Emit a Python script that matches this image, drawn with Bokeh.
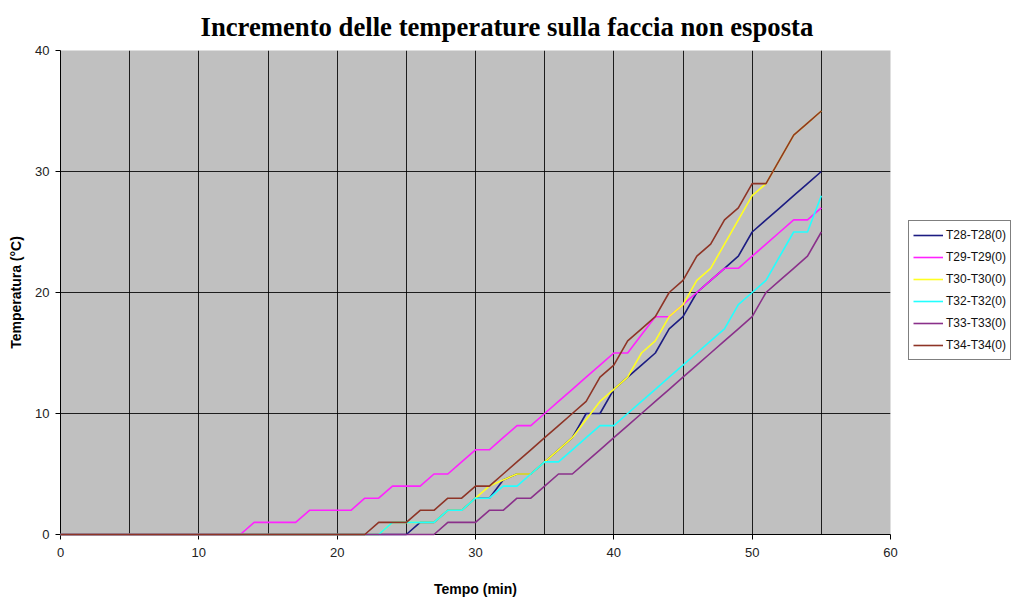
from bokeh.plotting import figure
from bokeh.models import FixedTicker, Legend, LegendItem
from bokeh.embed import file_html
from bokeh.resources import INLINE

# ---- data (minutes 0..55) ----
time = list(range(0, 56))

t28 = [0]*26 + [1, 1, 2, 2, 3, 3, 4.5, 5, 5, 6, 7, 8, 10, 10, 12, 13, 14, 15, 17, 18,
                20, 21, 22, 23, 25, 26, 27, 28, 29, 30]
t29 = [0]*14 + [1, 1, 1, 1, 2, 2, 2, 2, 3, 3, 4, 4, 4, 5, 5, 6, 7, 7, 8, 9, 9, 10, 11, 12,
                13, 14, 15, 15, 16.5, 18, 18, 19, 20, 21, 22, 22, 23, 24, 25, 26, 26, 27]
t30 = [0]*24 + [1, 1, 1, 1, 2, 2, 3, 4, 4.5, 5, 5, 6, 7, 8, 9.5, 11, 12, 13, 15, 16, 18,
                19, 21, 22, 24, 26, 28, 29, 31, 33, 34, 35]
t32 = [0]*24 + [1, 1, 1, 1, 2, 2, 3, 3, 4, 4, 5, 6, 6, 7, 8, 9, 9, 10, 11, 12, 13, 14,
                15, 16, 17, 19, 20, 21, 23, 25, 25, 28]
t33 = [0]*28 + [1, 1, 1, 2, 2, 3, 3, 4, 5, 5, 6, 7, 8, 9, 10, 11, 12, 13, 14, 15, 16, 17,
                18, 20, 21, 22, 23, 25]
t34 = [0]*23 + [1, 1, 1, 2, 2, 3, 3, 4, 4, 5, 6, 7, 8, 9, 10, 11, 13, 14, 16, 17, 18, 20,
                21, 23, 24, 26, 27, 29, 29, 31, 33, 34, 35]

names = ["T28-T28(0)", "T29-T29(0)", "T30-T30(0)", "T32-T32(0)", "T33-T33(0)", "T34-T34(0)"]
series = [t28, t29, t30, t32, t33, t34]
colors = ["#1c1c82", "#ff22ff", "#ffff22", "#22ffff", "#8a308a", "#8e3426"]

x_ticks = [0, 10, 20, 30, 40, 50, 60]
y_ticks = [0, 10, 20, 30, 40]
x_grid = [5, 10, 15, 20, 25, 30, 35, 40, 45, 50, 55]
y_grid = [10, 20, 30]

p = figure(frame_width=830, frame_height=484, output_backend="svg", toolbar_location=None,
           x_range=(0, 60), y_range=(0, 40),
           min_border_left=60, min_border_right=124, min_border_top=50, min_border_bottom=67)

p.border_fill_color = "white"
p.outline_line_color = None
p.background_fill_color = "#c0c0c0"

p.title.text = "Incremento delle temperature sulla faccia non esposta"
p.title.text_font = "Liberation Serif"
p.title.text_font_size = "26.7px"
p.title.text_font_style = "bold"
p.title.text_line_height = 1.0
p.title.align = "left"
p.title.offset = 140
p.title.standoff = 18
p.title.text_color = "black"

items = []
for name, ys, c in zip(names, series, colors):
    r = p.line(time, ys, line_color=c, line_width=1.6, level="overlay")
    items.append(LegendItem(label=name, renderers=[r]))

legend = Legend(items=items, location=(18, 174))
legend.label_text_font = "Liberation Sans"
legend.label_text_font_size = "12px"
legend.label_text_color = "#111111"
legend.glyph_width = 30
legend.glyph_height = 20
legend.label_standoff = 3
legend.label_height = 14
legend.spacing = 2
legend.padding = 4
legend.margin = 0
legend.border_line_color = "black"
legend.border_line_width = 1
legend.background_fill_color = "white"
legend.background_fill_alpha = 1
p.add_layout(legend, "right")

# axes
p.xaxis[0].ticker = FixedTicker(ticks=x_ticks)
p.yaxis[0].ticker = FixedTicker(ticks=y_ticks)
for ax in (p.xaxis[0], p.yaxis[0]):
    ax.axis_line_color = "black"
    ax.axis_line_width = 1
    ax.major_tick_line_color = "black"
    ax.major_tick_out = 5
    ax.major_tick_in = 0
    ax.minor_tick_line_color = None
    ax.major_label_text_font = "Liberation Sans"
    ax.major_label_text_font_size = "13px"
    ax.major_label_text_color = "#222222"
    ax.axis_label_text_font = "Liberation Sans"
    ax.axis_label_text_font_size = "14px"
    ax.axis_label_text_font_style = "bold"
    ax.axis_label_text_color = "black"

p.xaxis[0].axis_label = "Tempo (min)"
p.yaxis[0].axis_label = "Temperatura (°C)"
p.xaxis[0].major_label_standoff = 8
p.xaxis[0].axis_label_standoff = 21
p.yaxis[0].major_label_standoff = 6
p.yaxis[0].axis_label_standoff = 8

p.xgrid.ticker = FixedTicker(ticks=x_grid)
p.ygrid.ticker = FixedTicker(ticks=y_grid)
p.xgrid.grid_line_color = "black"
p.ygrid.grid_line_color = "black"
p.xgrid.grid_line_width = 1
p.ygrid.grid_line_width = 1
p.xgrid.grid_line_alpha = 0.85
p.ygrid.grid_line_alpha = 0.85

open("out.html", "w").write(file_html(p, INLINE))
